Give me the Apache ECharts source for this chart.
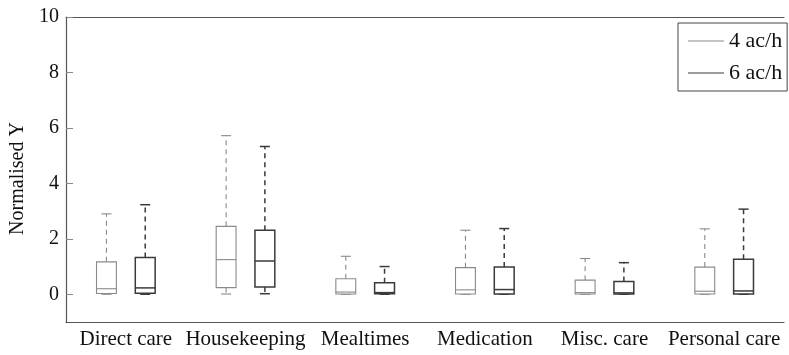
<!DOCTYPE html>
<html>
<head>
<meta charset="utf-8">
<script src="https://cdn.jsdelivr.net/npm/echarts@6/dist/echarts.min.js"></script>
<style>
html, body { margin: 0; padding: 0; background: #fff; }
#main { width: 789px; height: 355px; }
</style>
</head>
<body>
<div id="main"></div>
<script>
var myChart = echarts.init(document.getElementById('main'));

// 数据: [min, q1, median, q3, max]
var categories = ['Direct care', 'Housekeeping', 'Mealtimes', 'Medication', 'Misc. care', 'Personal care'];
var seriesNames = ['4 ac/h', '6 ac/h'];
var ach4 = [
    [0, 0.03, 0.20, 1.17, 2.90],
    [0.01, 0.24, 1.25, 2.45, 5.72],
    [0, 0.01, 0.08, 0.56, 1.37],
    [0, 0.01, 0.16, 0.96, 2.31],
    [0, 0.01, 0.06, 0.51, 1.29],
    [0, 0.01, 0.11, 0.98, 2.36]
];
var ach6 = [
    [0, 0.04, 0.23, 1.33, 3.23],
    [0.02, 0.26, 1.20, 2.31, 5.33],
    [0, 0.02, 0.06, 0.42, 1.00],
    [0, 0.01, 0.17, 0.98, 2.37],
    [0, 0.01, 0.05, 0.46, 1.14],
    [0, 0.01, 0.12, 1.26, 3.07]
];
var yTicks = [0, 2, 4, 6, 8, 10];

var font = 'Liberation Serif';

function toData(list) {
    return list.map(function (d, i) { return [i].concat(d); });
}

function makeRender(shift, color, width) {
    return function (params, api) {
        var band = api.size([1, 0])[0];
        var cx = api.coord([api.value(0), 0])[0] + shift * band;
        var half = band * 0.083;
        var cap = band * 0.042;
        var y = function (k) { return api.coord([api.value(0), api.value(k)])[1]; };
        var pMin = y(1), pQ1 = y(2), pMed = y(3), pQ3 = y(4), pMax = y(5);
        var solid = { stroke: color, lineWidth: width, fill: null };
        var dashed = { stroke: color, lineWidth: width, lineDash: [5, 4] };
        return {
            type: 'group',
            children: [
                { type: 'line', shape: { x1: cx, y1: pQ3, x2: cx, y2: pMax }, style: dashed },
                { type: 'line', shape: { x1: cx, y1: pQ1, x2: cx, y2: pMin }, style: dashed },
                { type: 'line', shape: { x1: cx - cap, y1: pMax, x2: cx + cap, y2: pMax }, style: solid },
                { type: 'line', shape: { x1: cx - cap, y1: pMin, x2: cx + cap, y2: pMin }, style: solid },
                { type: 'rect', shape: { x: cx - half, y: pQ3, width: half * 2, height: pQ1 - pQ3 }, style: { stroke: color, lineWidth: width, fill: '#fff' } },
                { type: 'line', shape: { x1: cx - half, y1: pMed, x2: cx + half, y2: pMed }, style: solid }
            ]
        };
    };
}

var colors = ['#8a8a8a', '#3a3a3a'];

option = {
    animation: false,
    grid: {
        left: 64,
        right: 5,
        top: 17,
        bottom: 33
    },
    legend: {
        orient: 'vertical',
        left: 678,
        top: 23,
        padding: [7, 5, 7, 10],
        itemWidth: 36,
        itemHeight: 1.2,
        itemGap: 10,
        borderColor: '#444',
        borderWidth: 1,
        backgroundColor: '#fff',
        textStyle: { fontFamily: font, fontSize: 22, color: '#111', lineHeight: 22 },
        data: [
            { name: seriesNames[0], icon: 'rect', itemStyle: { color: colors[0] } },
            { name: seriesNames[1], icon: 'rect', itemStyle: { color: colors[1] } }
        ]
    },
    xAxis: [
        {
            type: 'category',
            data: categories,
            axisLine: { onZero: false, lineStyle: { color: '#555', width: 1.2 } },
            axisTick: { alignWithLabel: true, inside: true, length: 7, lineStyle: { color: '#888' } },
            axisLabel: { fontFamily: font, fontSize: 21, color: '#111', margin: 7, interval: 0 }
        },
        {
            type: 'category',
            position: 'top',
            data: categories,
            axisLine: { onZero: false, lineStyle: { color: '#555', width: 1.2 } },
            axisTick: { alignWithLabel: true, inside: true, length: 7, lineStyle: { color: '#888' } },
            axisLabel: { show: false }
        }
    ],
    yAxis: {
        type: 'value',
        min: -1,
        max: 10,
        name: 'Normalised Y',
        nameLocation: 'middle',
        nameGap: 38,
        nameTextStyle: { fontFamily: font, fontSize: 20, color: '#111', padding: [0, 18, 0, 0] },
        splitLine: { show: false },
        axisLine: { show: true, lineStyle: { color: '#555', width: 1.2 } },
        axisTick: { show: true, inside: true, length: 7, customValues: yTicks, lineStyle: { color: '#888' } },
        axisLabel: { fontFamily: font, fontSize: 20, color: '#111', margin: 7, customValues: yTicks }
    },
    series: [
        {
            name: seriesNames[0],
            type: 'custom',
            renderItem: makeRender(-0.162, colors[0], 1.1),
            encode: { x: 0, y: [1, 2, 3, 4, 5] },
            data: toData(ach4)
        },
        {
            name: seriesNames[1],
            type: 'custom',
            renderItem: makeRender(0.162, colors[1], 1.5),
            encode: { x: 0, y: [1, 2, 3, 4, 5] },
            data: toData(ach6)
        }
    ]
};
myChart.setOption(option);
</script>
</body>
</html>
